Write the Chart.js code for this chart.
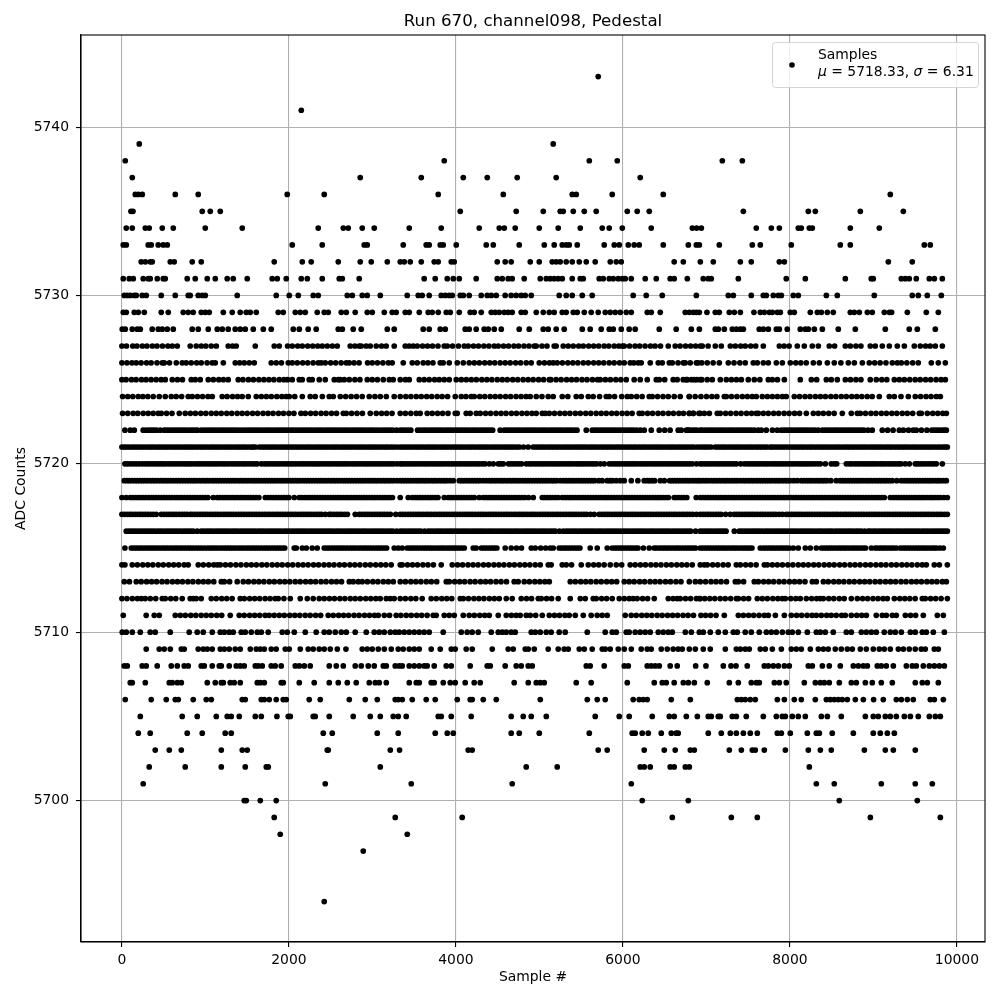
<!DOCTYPE html>
<html>
<head>
<meta charset="utf-8">
<title>Run 670, channel098, Pedestal</title>
<script src="https://cdn.jsdelivr.net/npm/chart.js@4"></script>
<style>
  html, body { margin: 0; padding: 0; background: #fff; }
  canvas { display: block; }
</style>
</head>
<body>
<canvas id="pedestal" width="1000" height="1000"></canvas>
<script>
// Sample numbers, one array per ADC level
const adc5743 = [5704];
const adc5741 = [2148];
const adc5739 = [208, 5165];
const adc5738 = [40, 3860, 5597, 5932, 7190, 7430];
const adc5737 = [124, 2854, 3585, 4088, 4375, 4734, 5201, 6207];
const adc5736 = [160, 196, 244, 639, 914, 1980, 2423, 3788, 4567, 5393, 5441, 5872, 6483, 9202];
const adc5735 = [108, 132, 962, 1058, 1178, 4052, 4722, 5046, 5249, 5285, 5405, 5537, 5680, 6052, 6171, 6315, 7442, 8220, 8304, 8843, 9358];
const adc5734 = [52, 124, 280, 327, 483, 615, 998, 1441, 2351, 2651, 2711, 2878, 3022, 3441, 3824, 4279, 4519, 4579, 4710, 4998, 5225, 5489, 5752, 5836, 5992, 6339, 6831, 6883, 6939, 7597, 7777, 7873, 8100, 8136, 8232, 8268, 8723, 9070];
const adc5733 = [16, 52, 315, 351, 435, 495, 543, 2040, 2399, 2902, 2938, 3369, 3644, 3680, 3812, 3848, 4004, 4363, 4447, 4758, 5058, 5177, 5273, 5321, 5357, 5453, 5776, 5896, 5956, 6064, 6135, 6195, 6483, 6783, 6879, 6915, 7154, 7549, 7645, 8016, 8603, 8723, 9609, 9681];
const adc5732 = [231, 280, 339, 363, 579, 627, 842, 950, 1824, 2160, 2267, 2591, 2854, 2986, 3178, 3333, 3381, 3453, 3585, 3740, 3788, 3944, 3980, 4495, 4590, 4662, 4890, 4998, 5153, 5201, 5249, 5321, 5393, 5477, 5561, 5668, 5848, 5920, 5980, 6614, 6723, 6927, 7082, 7406, 7537, 7873, 7933, 9178, 9465];
const adc5731 = [16, 88, 136, 255, 315, 339, 423, 495, 519, 782, 878, 1022, 1118, 1261, 1333, 1501, 1800, 1860, 1968, 2148, 2220, 2399, 2603, 2639, 2842, 3620, 3752, 3896, 3968, 4040, 4243, 4495, 4555, 4626, 4674, 4818, 5010, 5082, 5129, 5177, 5225, 5273, 5393, 5489, 5525, 5716, 5764, 5836, 5884, 5944, 5992, 6028, 6100, 6267, 6399, 6566, 6614, 6771, 6962, 7022, 7058, 7382, 7956, 8184, 8663, 8974, 8998, 9334, 9382, 9429, 9513, 9669, 9729, 9825];
const adc5730 = [28, 64, 100, 148, 172, 243, 291, 471, 639, 794, 818, 914, 962, 998, 1381, 1848, 2004, 2112, 2291, 2351, 2699, 2759, 2878, 2938, 3094, 3417, 3549, 3596, 3680, 3824, 3872, 3920, 3956, 4052, 4088, 4159, 4303, 4375, 4423, 4483, 4590, 4662, 4722, 4782, 4830, 4902, 5237, 5321, 5393, 5513, 5632, 6123, 6279, 6471, 6879, 7262, 7322, 7537, 7681, 7717, 7801, 7861, 7897, 8040, 8100, 8436, 8567, 9010, 9465, 9537, 9645, 9813];
const adc5729 = [16, 52, 148, 196, 268, 471, 555, 734, 794, 854, 950, 998, 1046, 1214, 1321, 1417, 1489, 1537, 1609, 1872, 1932, 2076, 2136, 2196, 2339, 2423, 2471, 2627, 2687, 2794, 2938, 2998, 3142, 3237, 3285, 3393, 3441, 3561, 3668, 3716, 3788, 3884, 3932, 4040, 4171, 4219, 4303, 4423, 4471, 4519, 4579, 4626, 4674, 4782, 4830, 4962, 5046, 5118, 5177, 5273, 5321, 5405, 5453, 5537, 5620, 5704, 5788, 5848, 5908, 5968, 6040, 6100, 6291, 6339, 6447, 6746, 6795, 6843, 6879, 6915, 7006, 7106, 7154, 7274, 7334, 7406, 7569, 7645, 7693, 7753, 7789, 7849, 7885, 8004, 8052, 8244, 8328, 8376, 8448, 8519, 8723, 8771, 8831, 8927, 8986, 9130, 9190, 9218, 9406, 9633, 9777];
const adc5728 = [4, 40, 124, 184, 220, 363, 435, 483, 543, 615, 842, 914, 1034, 1142, 1202, 1273, 1357, 1417, 1477, 1573, 1693, 1788, 2052, 2124, 2231, 2327, 2591, 2639, 2770, 2866, 3178, 3261, 3608, 3680, 3812, 3872, 4111, 4159, 4243, 4339, 4387, 4459, 4543, 4758, 4878, 5046, 5105, 5201, 5297, 5513, 5608, 5740, 5836, 5884, 5980, 6075, 6147, 6435, 6638, 6819, 6915, 7106, 7142, 7214, 7310, 7358, 7406, 7442, 7633, 7681, 7741, 7837, 7873, 7968, 8124, 8184, 8220, 8292, 8388, 8579, 8783, 9142, 9429, 9525, 9741];

const adc5727 = [0, 55, 130, 180, 245, 300, 365, 420, 485, 550, 603, 663, 818, 890, 950, 1005, 1070, 1130, 1273, 1325, 1369, 1597, 1824, 1884, 1984, 2040, 2105, 2160, 2225, 2285, 2345, 2399, 2459, 2520, 2579, 2734, 2790, 2842, 2866, 2925, 2974, 3046, 3110, 3165, 3261, 3393, 3440, 3489, 3537, 3600, 3660, 3720, 3785, 3860, 3896, 3960, 4030, 4100, 4147, 4210, 4270, 4335, 4395, 4459, 4507, 4570, 4630, 4695, 4750, 4815, 4875, 4938, 4962, 5030, 5090, 5177, 5201, 5285, 5345, 5405, 5470, 5525, 5590, 5650, 5710, 5775, 5830, 5895, 5950, 5992, 6016, 6080, 6145, 6200, 6265, 6330, 6385, 6450, 6543, 6626, 6685, 6750, 6810, 6870, 6927, 6950, 7020, 7106, 7178, 7286, 7346, 7410, 7465, 7530, 7590, 7681, 7873, 7930, 7990, 8088, 8172, 8268, 8340, 8471, 8535, 8663, 8723, 8790, 8850, 8962, 9022, 9106, 9190, 9286, 9370, 9489, 9561, 9625, 9680, 9741, 9825];
const adc5726 = [0, 60, 120, 172, 230, 295, 350, 420, 483, 507, 570, 651, 722, 770, 830, 895, 950, 1020, 1082, 1118, 1214, 1357, 1410, 1465, 1525, 1585, 1788, 1848, 1910, 1992, 2040, 2100, 2165, 2225, 2290, 2351, 2387, 2435, 2500, 2560, 2625, 2687, 2723, 2780, 2840, 2942, 2998, 3060, 3125, 3190, 3237, 3369, 3477, 3537, 3608, 3665, 3725, 3812, 3848, 3920, 4016, 4088, 4159, 4220, 4280, 4345, 4405, 4465, 4530, 4590, 4650, 4715, 4775, 4842, 4902, 4998, 5060, 5120, 5165, 5213, 5275, 5340, 5400, 5460, 5525, 5585, 5650, 5710, 5770, 5835, 5895, 5960, 6016, 6087, 6130, 6183, 6219, 6327, 6423, 6471, 6555, 6591, 6660, 6746, 6806, 6902, 6723, 6879, 6945, 7010, 7080, 7154, 7262, 7330, 7400, 7465, 7561, 7609, 7681, 7741, 7837, 7909, 8004, 8070, 8130, 8195, 8280, 8352, 8448, 8531, 8610, 8699, 8771, 8867, 8950, 9015, 9080, 9150, 9226, 9286, 9334, 9400, 9470, 9537, 9693, 9777, 9861];
const adc5725 = [0, 50, 115, 170, 235, 290, 350, 410, 470, 519, 603, 665, 725, 830, 878, 938, 1034, 1095, 1160, 1215, 1273, 1393, 1450, 1515, 1575, 1640, 1700, 1760, 1820, 1885, 1940, 1984, 2040, 2124, 2160, 2243, 2279, 2363, 2435, 2543, 2591, 2615, 2663, 2723, 2790, 2850, 2938, 2998, 3060, 3130, 3202, 3249, 3333, 3395, 3441, 3561, 3620, 3680, 3745, 3800, 3860, 3920, 4004, 4065, 4125, 4185, 4245, 4310, 4370, 4430, 4495, 4555, 4615, 4680, 4740, 4805, 4865, 4925, 4990, 5050, 5118, 5137, 5200, 5260, 5325, 5385, 5445, 5510, 5570, 5635, 5696, 5728, 5790, 5850, 5915, 5975, 6040, 6135, 6207, 6291, 6399, 6435, 6500, 6602, 6650, 6722, 6770, 6854, 6926, 6759, 6820, 6885, 6945, 7010, 7070, 7166, 7238, 7300, 7360, 7418, 7501, 7573, 7640, 7741, 7789, 7850, 7933, 8124, 8256, 8320, 8436, 8495, 8567, 8663, 8725, 8790, 8850, 8962, 9034, 9100, 9160, 9250, 9310, 9370, 9435, 9500, 9560, 9625, 9685, 9750, 9810, 9861];
const adc5724 = [8, 70, 130, 195, 250, 310, 375, 447, 519, 591, 650, 715, 794, 842, 905, 965, 1030, 1082, 1201, 1260, 1325, 1385, 1441, 1513, 1609, 1670, 1730, 1790, 1855, 1915, 1968, 2004, 2070, 2160, 2255, 2315, 2400, 2483, 2531, 2615, 2680, 2745, 2810, 2878, 2962, 3030, 3094, 3166, 3261, 3333, 3400, 3461, 3525, 3585, 3650, 3710, 3775, 3835, 3900, 3992, 4064, 4120, 4183, 4219, 4285, 4345, 4410, 4470, 4530, 4595, 4655, 4720, 4780, 4840, 4890, 4962, 5030, 5105, 5165, 5273, 5340, 5441, 5501, 5585, 5644, 5720, 5800, 5836, 5900, 5985, 6052, 6100, 6165, 6230, 6315, 6351, 6415, 6480, 6543, 6614, 6686, 6794, 6865, 6934, 6795, 7000, 7065, 7125, 7214, 7238, 7300, 7365, 7430, 7490, 7549, 7597, 7669, 7730, 7790, 7850, 7909, 7956, 8052, 8115, 8180, 8240, 8305, 8365, 8425, 8490, 8550, 8615, 8675, 8740, 8800, 8860, 8925, 8985, 9070, 9190, 9250, 9330, 9418, 9501, 9565, 9630, 9690, 9753, 9801];
const adc5723 = [8, 70, 135, 190, 255, 315, 375, 435, 471, 535, 600, 687, 758, 820, 880, 945, 1005, 1070, 1130, 1190, 1255, 1315, 1380, 1440, 1500, 1565, 1625, 1690, 1750, 1810, 1875, 1935, 2000, 2060, 2144, 2196, 2260, 2320, 2385, 2445, 2510, 2570, 2651, 2687, 2750, 2815, 2880, 2974, 3046, 3110, 3170, 3235, 3333, 3395, 3460, 3525, 3572, 3656, 3716, 3780, 3840, 3905, 3992, 4016, 4123, 4171, 4243, 4291, 4355, 4415, 4480, 4540, 4600, 4665, 4725, 4790, 4850, 4910, 4962, 5034, 5070, 5118, 5180, 5245, 5305, 5365, 5430, 5490, 5555, 5615, 5680, 5740, 5800, 5865, 5925, 5990, 6050, 6110, 6195, 6231, 6295, 6355, 6420, 6480, 6545, 6605, 6670, 6794, 6842, 6926, 6725, 6795, 6843, 6910, 6975, 7035, 7130, 7166, 7230, 7290, 7355, 7415, 7480, 7540, 7597, 7621, 7681, 7741, 7805, 7865, 7930, 7990, 8055, 8115, 8196, 8280, 8340, 8400, 8465, 8530, 8627, 8735, 8807, 8843, 8905, 8970, 9030, 9095, 9155, 9220, 9280, 9345, 9405, 9470, 9549, 9573, 9645, 9710, 9770, 9830, 9873];
const adc5722 = [36, 100, 148, 255, 291, 355, 415, 459, 507, 567, 630, 690, 750, 815, 875, 950, 986, 1050, 1110, 1175, 1235, 1300, 1360, 1429, 1465, 1530, 1590, 1650, 1715, 1775, 1840, 1900, 1960, 2025, 2085, 2150, 2210, 2270, 2335, 2395, 2460, 2520, 2580, 2645, 2705, 2770, 2830, 2890, 2955, 3015, 3082, 3118, 3180, 3245, 3333, 3395, 3460, 3541, 3572, 3635, 3700, 3760, 3820, 3885, 3945, 4010, 4070, 4130, 4195, 4255, 4320, 4380, 4440, 4530, 4579, 4640, 4705, 4765, 4830, 4890, 4950, 5015, 5075, 5140, 5200, 5260, 5325, 5385, 5450, 5561, 5632, 5695, 5760, 5820, 5880, 5945, 6005, 6070, 6130, 6207, 6255, 6339, 6435, 6500, 6565, 6662, 6698, 6760, 6825, 6885, 6926, 6950, 7015, 7075, 7140, 7200, 7265, 7325, 7390, 7450, 7510, 7575, 7657, 7717, 7790, 7849, 7897, 7960, 8020, 8085, 8145, 8205, 8270, 8340, 8388, 8450, 8515, 8575, 8640, 8700, 8760, 8825, 8885, 8986, 9106, 9170, 9235, 9310, 9358, 9420, 9477, 9513, 9575, 9640, 9700, 9760, 9825, 9873];
const adc5722b = [325, 385, 537, 600, 660, 720, 782, 845, 905, 1018, 1080, 1142, 1205, 1268, 1330, 1395, 1498, 1560, 1620, 1682, 1745, 1808, 1870, 1930, 1992, 2055, 2118, 2180, 2240, 2302, 2365, 2428, 2490, 2550, 2612, 2675, 2738, 2800, 2860, 2922, 2985, 3048, 3150, 3212, 3290, 3365, 3428, 3605, 3668, 3730, 3790, 3852, 3915, 3978, 4040, 4100, 4162, 4225, 4288, 4350, 4410, 4610, 4672, 4735, 4798, 4860, 4920, 4982, 5045, 5108, 5170, 5230, 5292, 5355, 5418, 5665, 5728, 5790, 5850, 5912, 5975, 6038, 6100, 6165, 6780, 6792, 6855, 6982, 7045, 7108, 7170, 7232, 7295, 7358, 7420, 7480, 7542, 7620, 7930, 7990, 8052, 8115, 8175, 8238, 8302, 8420, 8482, 8545, 8608, 8670, 8730, 8792, 8855, 8935, 9730, 9792, 9850];
const adc5721 = [0, 60, 125, 185, 245, 310, 370, 435, 495, 555, 620, 680, 745, 805, 865, 930, 990, 1055, 1115, 1175, 1240, 1300, 1365, 1425, 1485, 1550, 1597, 1645, 1710, 1770, 1830, 1895, 1955, 2020, 2080, 2140, 2205, 2265, 2330, 2390, 2450, 2515, 2575, 2640, 2700, 2760, 2825, 2885, 2950, 3010, 3070, 3135, 3195, 3260, 3333, 3395, 3455, 3520, 3580, 3645, 3705, 3765, 3830, 3890, 3955, 4015, 4075, 4140, 4200, 4265, 4325, 4385, 4450, 4510, 4575, 4635, 4695, 4760, 4866, 4926, 4990, 5050, 5115, 5175, 5235, 5300, 5360, 5425, 5485, 5545, 5610, 5670, 5735, 5795, 5855, 5920, 5980, 6045, 6105, 6165, 6230, 6290, 6355, 6415, 6475, 6540, 6600, 6665, 6725, 6785, 6850, 6926, 6990, 7054, 7106, 7170, 7230, 7295, 7355, 7415, 7480, 7540, 7605, 7665, 7725, 7765, 7789, 7850, 7915, 7975, 8040, 8100, 8160, 8225, 8285, 8350, 8410, 8470, 8535, 8595, 8660, 8720, 8780, 8845, 8905, 8970, 9030, 9090, 9155, 9215, 9280, 9340, 9400, 9465, 9525, 9590, 9650, 9710, 9775, 9835, 9885];
const adc5721b = [30, 92, 155, 215, 278, 340, 402, 465, 525, 588, 650, 712, 775, 835, 898, 960, 1022, 1085, 1145, 1208, 1270, 1332, 1395, 1455, 1518, 1572, 1678, 1740, 1800, 1862, 1925, 1988, 2050, 2110, 2172, 2235, 2298, 2360, 2420, 2482, 2545, 2608, 2670, 2730, 2792, 2855, 2918, 2980, 3040, 3102, 3165, 3228, 3296, 3365, 3425, 3488, 3550, 3612, 3675, 3735, 3798, 3860, 3922, 3985, 4045, 4108, 4170, 4232, 4295, 4355, 4418, 4480, 4542, 4605, 4665, 4728, 4810, 4958, 5020, 5082, 5145, 5205, 5268, 5330, 5392, 5455, 5515, 5578, 5640, 5702, 5765, 5825, 5888, 5950, 6012, 6075, 6135, 6198, 6260, 6322, 6385, 6445, 6508, 6570, 6632, 6695, 6755, 6818, 6890, 6958, 7020, 7138, 7200, 7262, 7325, 7385, 7448, 7510, 7572, 7635, 7695, 7820, 7882, 7945, 8008, 8070, 8130, 8192, 8255, 8318, 8380, 8440, 8502, 8565, 8628, 8690, 8750, 8812, 8875, 8938, 9000, 9060, 9122, 9185, 9248, 9310, 9370, 9432, 9495, 9558, 9620, 9680, 9742, 9805, 9860];
const adc5720 = [36, 100, 170, 243, 279, 340, 405, 465, 525, 590, 650, 715, 775, 835, 900, 960, 1025, 1085, 1145, 1210, 1273, 1309, 1370, 1435, 1495, 1560, 1620, 1669, 1705, 1765, 1830, 1890, 1955, 2015, 2075, 2140, 2200, 2265, 2325, 2385, 2450, 2510, 2575, 2635, 2695, 2760, 2820, 2885, 2945, 3005, 3070, 3130, 3195, 3255, 3333, 3357, 3420, 3480, 3540, 3605, 3665, 3730, 3790, 3850, 3915, 3975, 4040, 4100, 4160, 4225, 4285, 4350, 4447, 4507, 4567, 4630, 4690, 4755, 4842, 4878, 4940, 5005, 5065, 5130, 5190, 5250, 5315, 5375, 5440, 5500, 5560, 5625, 5685, 5776, 5836, 5900, 5960, 6025, 6085, 6145, 6210, 6270, 6335, 6395, 6455, 6520, 6580, 6645, 6705, 6765, 6830, 6926, 6990, 7050, 7115, 7175, 7235, 7300, 7360, 7454, 7489, 7550, 7610, 7675, 7735, 7800, 7860, 7920, 7985, 8045, 8110, 8170, 8230, 8295, 8364, 8424, 8495, 8560, 8675, 8711, 8775, 8835, 8900, 8960, 9020, 9085, 9145, 9210, 9270, 9330, 9430, 9501, 9560, 9625, 9690, 9753, 9825];
const adc5720b = [68, 135, 205, 310, 372, 435, 495, 558, 620, 682, 745, 805, 868, 930, 992, 1055, 1115, 1178, 1240, 1340, 1402, 1465, 1528, 1590, 1735, 1798, 1860, 1922, 1985, 2045, 2108, 2170, 2232, 2295, 2355, 2418, 2480, 2542, 2605, 2665, 2728, 2790, 2852, 2915, 2975, 3038, 3100, 3162, 3225, 3295, 3388, 3450, 3510, 3572, 3635, 3698, 3760, 3820, 3882, 3945, 4008, 4070, 4130, 4192, 4255, 4318, 4400, 4537, 4660, 4722, 4785, 4908, 4972, 5035, 5098, 5160, 5220, 5282, 5345, 5408, 5470, 5530, 5592, 5655, 5730, 5868, 5930, 5992, 6055, 6115, 6178, 6240, 6302, 6365, 6425, 6488, 6550, 6612, 6675, 6735, 6798, 6880, 6958, 7020, 7082, 7145, 7205, 7268, 7330, 7410, 7520, 7580, 7642, 7705, 7768, 7830, 7890, 7952, 8015, 8078, 8140, 8200, 8262, 8330, 8530, 8740, 8805, 8868, 8930, 8990, 9052, 9115, 9178, 9240, 9300, 9380, 9530, 9592, 9658, 9720];
const adc5719 = [28, 90, 155, 215, 275, 340, 400, 465, 525, 585, 650, 710, 775, 835, 895, 960, 1020, 1085, 1145, 1205, 1270, 1330, 1395, 1455, 1515, 1580, 1640, 1705, 1765, 1825, 1890, 1950, 2015, 2075, 2135, 2200, 2260, 2325, 2385, 2445, 2510, 2570, 2635, 2695, 2755, 2820, 2880, 2945, 3005, 3065, 3130, 3190, 3255, 3333, 3395, 3455, 3520, 3580, 3640, 3705, 3765, 3830, 3890, 3968, 4040, 4100, 4165, 4225, 4285, 4363, 4399, 4460, 4525, 4585, 4650, 4710, 4770, 4835, 4895, 4960, 5020, 5080, 5145, 5205, 5249, 5285, 5350, 5410, 5475, 5535, 5595, 5660, 5752, 5812, 5875, 5968, 6016, 6100, 6179, 6255, 6320, 6380, 6447, 6495, 6560, 6620, 6680, 6745, 6805, 6870, 6926, 6990, 7022, 7058, 7120, 7185, 7245, 7310, 7370, 7406, 7442, 7505, 7565, 7630, 7690, 7750, 7815, 7875, 7940, 8000, 8088, 8136, 8200, 8260, 8325, 8385, 8445, 8555, 8603, 8665, 8730, 8790, 8850, 8915, 8975, 9040, 9100, 9160, 9225, 9334, 9370, 9435, 9495, 9555, 9620, 9680, 9745, 9805, 9873];
const adc5719b = [60, 122, 185, 245, 308, 370, 432, 495, 555, 618, 680, 742, 805, 865, 928, 990, 1052, 1115, 1175, 1238, 1300, 1362, 1425, 1485, 1548, 1610, 1672, 1735, 1795, 1858, 1920, 1982, 2045, 2105, 2168, 2230, 2292, 2355, 2415, 2478, 2540, 2602, 2665, 2725, 2788, 2850, 2912, 2975, 3035, 3098, 3160, 3222, 3295, 3365, 3425, 3488, 3550, 3610, 3672, 3735, 3798, 3860, 3930, 4070, 4132, 4195, 4255, 4325, 4430, 4492, 4555, 4618, 4680, 4740, 4802, 4865, 4928, 4990, 5050, 5112, 5175, 5318, 5380, 5442, 5505, 5565, 5628, 5710, 5845, 5920, 6290, 6350, 6590, 6650, 6712, 6775, 6838, 6900, 6958, 7090, 7152, 7215, 7278, 7340, 7472, 7535, 7598, 7660, 7720, 7782, 7845, 7908, 7970, 8045, 8168, 8230, 8292, 8355, 8415, 8490, 8635, 8698, 8760, 8820, 8882, 8945, 9008, 9070, 9130, 9192, 9280, 9402, 9465, 9525, 9588, 9650, 9712, 9775, 9840];
const adc5718 = [0, 52, 100, 165, 225, 285, 350, 410, 475, 535, 595, 660, 720, 785, 845, 905, 970, 1030, 1094, 1142, 1205, 1265, 1330, 1390, 1450, 1515, 1575, 1640, 1717, 1753, 1815, 1880, 1940, 2000, 2064, 2124, 2190, 2250, 2310, 2375, 2435, 2500, 2560, 2620, 2685, 2745, 2810, 2870, 2930, 2995, 3055, 3120, 3180, 3240, 3333, 3429, 3477, 3540, 3600, 3665, 3725, 3785, 3860, 3908, 3970, 4035, 4095, 4160, 4220, 4279, 4327, 4390, 4450, 4515, 4575, 4635, 4700, 4760, 4825, 4926, 5034, 5095, 5160, 5225, 5273, 5335, 5395, 5460, 5520, 5585, 5645, 5705, 5770, 5830, 5895, 5955, 6015, 6080, 6140, 6205, 6265, 6325, 6390, 6450, 6515, 6614, 6638, 6700, 6765, 6878, 6927, 6990, 7050, 7115, 7175, 7235, 7300, 7360, 7425, 7485, 7545, 7610, 7670, 7735, 7795, 7855, 7920, 7980, 8045, 8105, 8165, 8230, 8290, 8355, 8415, 8475, 8540, 8600, 8665, 8725, 8785, 8850, 8910, 8975, 9035, 9095, 9202, 9238, 9300, 9365, 9425, 9490, 9550, 9610, 9675, 9735, 9800, 9885];
const adc5718b = [132, 195, 255, 318, 380, 442, 505, 565, 628, 690, 752, 815, 875, 938, 1000, 1172, 1235, 1298, 1360, 1420, 1482, 1545, 1608, 1785, 1848, 1910, 1970, 2155, 2220, 2280, 2342, 2405, 2468, 2530, 2590, 2652, 2715, 2778, 2840, 2900, 2962, 3025, 3088, 3150, 3210, 3510, 3570, 3632, 3695, 3755, 3940, 4002, 4065, 4128, 4190, 4358, 4420, 4482, 4545, 4605, 4668, 4730, 4792, 4870, 5065, 5128, 5192, 5305, 5365, 5428, 5490, 5552, 5615, 5675, 5738, 5800, 5862, 5925, 5985, 6048, 6110, 6172, 6235, 6295, 6358, 6420, 6482, 6545, 6670, 6730, 6958, 7020, 7082, 7145, 7205, 7268, 7330, 7392, 7455, 7515, 7578, 7640, 7702, 7765, 7825, 7888, 7950, 8012, 8075, 8135, 8198, 8260, 8322, 8385, 8445, 8508, 8570, 8632, 8695, 8755, 8818, 8880, 8942, 9005, 9065, 9130, 9270, 9332, 9395, 9458, 9520, 9580, 9642, 9705, 9768, 9842];
const adc5717 = [0, 65, 125, 190, 250, 310, 375, 411, 471, 535, 595, 655, 720, 780, 818, 842, 905, 965, 1025, 1090, 1150, 1215, 1275, 1335, 1400, 1460, 1525, 1585, 1645, 1710, 1770, 1835, 1895, 1955, 2020, 2080, 2145, 2205, 2265, 2330, 2390, 2483, 2507, 2570, 2630, 2700, 2794, 2842, 2905, 2965, 3030, 3090, 3150, 3215, 3333, 3395, 3460, 3520, 3580, 3645, 3705, 3770, 3830, 3890, 3955, 4015, 4080, 4140, 4200, 4265, 4325, 4390, 4450, 4510, 4575, 4635, 4700, 4760, 4820, 4885, 4945, 5010, 5070, 5130, 5195, 5255, 5320, 5380, 5440, 5505, 5565, 5656, 5716, 5780, 5840, 5905, 5965, 6025, 6090, 6150, 6215, 6275, 6335, 6400, 6460, 6525, 6585, 6645, 6710, 6770, 6835, 6926, 6990, 7050, 7115, 7175, 7286, 7334, 7395, 7460, 7520, 7580, 7645, 7705, 7770, 7830, 7909, 7956, 8020, 8080, 8140, 8205, 8265, 8330, 8390, 8450, 8515, 8575, 8640, 8700, 8760, 8825, 8885, 8950, 9010, 9070, 9135, 9195, 9260, 9320, 9380, 9445, 9505, 9570, 9630, 9690, 9755, 9815, 9885];
const adc5717b = [32, 95, 158, 220, 280, 342, 503, 565, 625, 688, 750, 875, 935, 995, 1058, 1120, 1182, 1245, 1305, 1368, 1430, 1492, 1555, 1615, 1678, 1740, 1802, 1865, 1925, 1988, 2050, 2112, 2175, 2235, 2298, 2360, 2435, 2538, 2600, 2665, 2872, 2935, 2998, 3060, 3120, 3182, 3280, 3365, 3428, 3490, 3550, 3612, 3675, 3738, 3800, 3860, 3922, 3985, 4048, 4110, 4170, 4232, 4295, 4358, 4420, 4480, 4542, 4605, 4668, 4730, 4790, 4852, 4915, 4978, 5040, 5100, 5162, 5225, 5288, 5350, 5410, 5472, 5535, 5610, 5748, 5810, 5872, 5935, 5995, 6058, 6120, 6182, 6245, 6305, 6368, 6430, 6492, 6555, 6615, 6678, 6740, 6802, 6880, 6958, 7020, 7082, 7145, 7230, 7365, 7428, 7490, 7550, 7612, 7675, 7738, 7800, 7870, 7988, 8050, 8110, 8172, 8235, 8298, 8360, 8420, 8482, 8545, 8608, 8670, 8730, 8792, 8855, 8918, 8980, 9040, 9102, 9165, 9228, 9290, 9350, 9412, 9475, 9538, 9600, 9660, 9722, 9785, 9850];
const adc5716 = [52, 115, 175, 240, 300, 360, 425, 485, 550, 610, 670, 735, 795, 854, 902, 950, 1015, 1075, 1140, 1200, 1260, 1325, 1385, 1450, 1510, 1570, 1635, 1695, 1760, 1820, 1880, 1945, 2005, 2070, 2130, 2190, 2255, 2315, 2380, 2440, 2500, 2565, 2625, 2690, 2750, 2810, 2875, 2935, 3000, 3060, 3120, 3185, 3245, 3333, 3395, 3460, 3520, 3580, 3668, 3700, 3765, 3825, 3890, 3950, 4010, 4075, 4135, 4200, 4260, 4320, 4385, 4445, 4510, 4570, 4630, 4695, 4755, 4820, 4880, 4940, 5005, 5065, 5130, 5190, 5285, 5321, 5385, 5445, 5510, 5570, 5630, 5695, 5755, 5820, 5880, 5940, 6005, 6065, 6130, 6190, 6250, 6315, 6375, 6440, 6500, 6560, 6625, 6685, 6750, 6810, 6926, 6990, 7050, 7115, 7175, 7235, 7334, 7394, 7455, 7520, 7580, 7640, 7705, 7765, 7830, 7890, 7950, 8015, 8075, 8140, 8200, 8260, 8325, 8385, 8450, 8507, 8543, 8605, 8670, 8730, 8795, 8855, 8938, 8962, 9025, 9090, 9150, 9210, 9275, 9335, 9400, 9460, 9520, 9585, 9645, 9710, 9770, 9830, 9885];
const adc5716b = [85, 145, 208, 270, 330, 392, 455, 518, 580, 640, 702, 765, 825, 982, 1045, 1108, 1170, 1230, 1292, 1355, 1418, 1480, 1540, 1602, 1665, 1728, 1790, 1850, 1912, 1975, 2038, 2100, 2160, 2222, 2285, 2348, 2410, 2470, 2532, 2595, 2658, 2720, 2780, 2842, 2905, 2968, 3030, 3090, 3152, 3215, 3290, 3365, 3428, 3490, 3550, 3625, 3732, 3795, 3858, 3920, 3980, 4042, 4105, 4168, 4230, 4290, 4352, 4415, 4478, 4540, 4600, 4662, 4725, 4788, 4850, 4910, 4972, 5035, 5098, 5160, 5240, 5352, 5415, 5478, 5540, 5600, 5662, 5725, 5788, 5850, 5910, 5972, 6035, 6098, 6160, 6220, 6282, 6345, 6408, 6470, 6530, 6592, 6655, 6718, 6780, 6870, 6958, 7020, 7082, 7145, 7205, 7424, 7488, 7550, 7610, 7672, 7735, 7798, 7860, 7920, 7982, 8045, 8108, 8170, 8230, 8292, 8355, 8418, 8478, 8575, 8638, 8700, 8762, 8825, 8895, 8995, 9058, 9120, 9180, 9242, 9305, 9368, 9430, 9490, 9552, 9615, 9678, 9740, 9800, 9858];
const adc5715 = [36, 112, 175, 235, 300, 360, 420, 485, 545, 610, 670, 730, 795, 855, 920, 986, 1022, 1085, 1145, 1210, 1270, 1330, 1395, 1455, 1520, 1580, 1640, 1705, 1765, 1830, 1890, 1950, 2064, 2088, 2160, 2208, 2279, 2339, 2423, 2485, 2550, 2610, 2670, 2735, 2795, 2860, 2920, 2980, 3045, 3105, 3170, 3261, 3309, 3357, 3417, 3480, 3540, 3605, 3665, 3725, 3790, 3850, 3915, 3975, 4035, 4100, 4207, 4243, 4305, 4365, 4430, 4490, 4590, 4662, 4725, 4785, 4902, 4950, 5015, 5075, 5129, 5165, 5237, 5300, 5360, 5425, 5485, 5608, 5692, 5812, 5872, 5935, 5995, 6060, 6120, 6180, 6245, 6315, 6375, 6440, 6500, 6560, 6625, 6685, 6750, 6810, 6870, 6926, 6990, 7050, 7115, 7175, 7235, 7300, 7360, 7425, 7485, 7545, 7645, 7681, 7745, 7805, 7870, 7930, 7990, 8040, 8100, 8184, 8244, 8316, 8376, 8440, 8500, 8565, 8625, 8685, 8750, 8810, 8875, 8975, 9022, 9085, 9145, 9210, 9274, 9322, 9385, 9445, 9510, 9570, 9630, 9695, 9755, 9837];
const adc5715b = [145, 205, 268, 330, 390, 452, 515, 578, 640, 700, 762, 825, 888, 952, 1055, 1115, 1178, 1240, 1300, 1362, 1425, 1488, 1550, 1610, 1672, 1735, 1798, 1860, 1920, 2455, 2518, 2580, 2640, 2702, 2765, 2828, 2890, 2950, 3012, 3075, 3138, 3450, 3510, 3572, 3635, 3695, 3758, 3820, 3882, 3945, 4005, 4068, 4335, 4398, 4460, 5268, 5330, 5392, 5455, 5905, 5965, 6028, 6090, 6150, 6405, 6470, 6530, 6592, 6655, 6718, 6780, 6840, 6958, 7020, 7082, 7145, 7205, 7268, 7330, 7392, 7455, 7515, 7712, 7775, 7838, 7900, 7960, 8408, 8470, 8532, 8595, 8655, 8718, 8780, 8842, 8905, 9052, 9115, 9178, 9240, 9355, 9415, 9478, 9540, 9600, 9662, 9725, 9795];
const adc5714 = [0, 36, 124, 185, 250, 310, 370, 435, 495, 560, 620, 680, 745, 794, 914, 975, 1040, 1100, 1142, 1178, 1240, 1300, 1365, 1425, 1490, 1550, 1610, 1675, 1735, 1800, 1860, 1920, 1985, 2045, 2110, 2170, 2230, 2295, 2355, 2420, 2480, 2540, 2605, 2665, 2730, 2790, 2850, 2915, 2975, 3040, 3100, 3160, 3225, 3333, 3357, 3420, 3480, 3540, 3605, 3665, 3730, 3824, 3956, 4020, 4080, 4145, 4205, 4265, 4330, 4390, 4455, 4515, 4575, 4640, 4700, 4765, 4825, 4885, 4950, 5010, 5106, 5141, 5273, 5321, 5385, 5501, 5585, 5650, 5710, 5775, 5848, 5920, 5985, 6087, 6147, 6210, 6270, 6335, 6395, 6455, 6520, 6580, 6645, 6705, 6765, 6830, 6926, 6974, 7010, 7075, 7135, 7200, 7260, 7358, 7406, 7470, 7530, 7595, 7693, 7729, 7789, 7849, 7910, 7975, 8035, 8100, 8160, 8220, 8285, 8345, 8410, 8470, 8530, 8595, 8655, 8720, 8780, 8840, 8905, 8965, 9030, 9090, 9150, 9215, 9275, 9340, 9400, 9460, 9525, 9585, 9633, 9729, 9790, 9885];
const adc5713 = [28, 90, 172, 231, 295, 355, 415, 480, 540, 605, 665, 725, 790, 850, 915, 975, 1035, 1100, 1190, 1226, 1290, 1381, 1453, 1515, 1580, 1640, 1700, 1765, 1825, 1890, 1950, 2010, 2075, 2135, 2200, 2260, 2320, 2385, 2445, 2510, 2570, 2630, 2723, 2770, 2830, 2878, 2940, 3005, 3065, 3130, 3190, 3250, 3333, 3395, 3460, 3520, 3580, 3645, 3705, 3770, 3884, 3920, 3985, 4045, 4105, 4170, 4230, 4295, 4355, 4415, 4480, 4540, 4605, 4698, 4746, 4818, 4880, 4945, 5005, 5065, 5118, 5369, 5430, 5495, 5555, 5615, 5680, 5740, 5805, 5865, 5925, 6016, 6075, 6135, 6200, 6260, 6325, 6385, 6445, 6510, 6570, 6635, 6695, 6795, 6867, 6926, 6990, 7055, 7115, 7175, 7240, 7346, 7382, 7445, 7573, 7621, 7685, 7745, 7805, 7870, 7930, 7995, 8055, 8115, 8180, 8268, 8316, 8400, 8459, 8525, 8585, 8645, 8710, 8770, 8835, 8895, 8955, 9020, 9080, 9145, 9205, 9265, 9330, 9390, 9455, 9515, 9575, 9640, 9700, 9760, 9825, 9873];
const adc5712 = [0, 60, 125, 185, 232, 279, 340, 405, 483, 519, 585, 645, 722, 818, 854, 890, 950, 1070, 1130, 1195, 1255, 1320, 1417, 1465, 1530, 1590, 1650, 1715, 1775, 1836, 1872, 1940, 2016, 2136, 2220, 2291, 2363, 2423, 2485, 2545, 2610, 2670, 2735, 2794, 2855, 2920, 2980, 3040, 3094, 3166, 3214, 3261, 3333, 3395, 3460, 3520, 3596, 3704, 3765, 3830, 3890, 3950, 4052, 4088, 4150, 4215, 4275, 4335, 4400, 4460, 4519, 4603, 4674, 4782, 4845, 4905, 4986, 5022, 5085, 5145, 5225, 5369, 5489, 5549, 5644, 5680, 5745, 5805, 5872, 5956, 6016, 6075, 6123, 6171, 6235, 6295, 6375, 6543, 6600, 6650, 6686, 6750, 6810, 6926, 6879, 6915, 6980, 7040, 7100, 7165, 7225, 7290, 7358, 7382, 7445, 7505, 7609, 7669, 7730, 7795, 7855, 7909, 7945, 8010, 8070, 8124, 8196, 8260, 8320, 8364, 8400, 8465, 8525, 8590, 8650, 8735, 8807, 8870, 8930, 8995, 9055, 9115, 9166, 9250, 9315, 9375, 9435, 9500, 9585, 9621, 9685, 9745, 9810, 9885];
const adc5711 = [16, 291, 387, 447, 639, 700, 760, 825, 885, 950, 1010, 1070, 1135, 1195, 1297, 1405, 1465, 1530, 1590, 1650, 1715, 1764, 1824, 1885, 1945, 2010, 2070, 2130, 2195, 2255, 2320, 2380, 2471, 2531, 2595, 2655, 2715, 2780, 2840, 2905, 2965, 3025, 3070, 3142, 3205, 3285, 3341, 3405, 3465, 3530, 3590, 3655, 3728, 3764, 3860, 3920, 3980, 4088, 4159, 4220, 4285, 4345, 4399, 4507, 4603, 4665, 4722, 4770, 4842, 4890, 4955, 5034, 5118, 5180, 5240, 5305, 5357, 5429, 5525, 5620, 5692, 5752, 5812, 6028, 6100, 6160, 6225, 6285, 6345, 6410, 6470, 6535, 6595, 6655, 6720, 6780, 6845, 6934, 6990, 7050, 7115, 7214, 7382, 7442, 7505, 7565, 7630, 7693, 7741, 7825, 7933, 8016, 8080, 8140, 8205, 8265, 8316, 8376, 8440, 8495, 8555, 8620, 8663, 8735, 8800, 8860, 8915, 9034, 9106, 9154, 9226, 9274, 9382, 9445, 9505, 9597, 9765, 9837];

const adc5710 = [4, 52, 124, 220, 339, 399, 579, 806, 902, 974, 1082, 1178, 1226, 1285, 1333, 1429, 1477, 1549, 1621, 1669, 1752, 1920, 1980, 2064, 2196, 2327, 2423, 2483, 2555, 2627, 2687, 2794, 2926, 3022, 3082, 3142, 3214, 3273, 3321, 3381, 3441, 3501, 3561, 3620, 3680, 3848, 4064, 4135, 4195, 4267, 4423, 4507, 4555, 4603, 4662, 4710, 4902, 4950, 5010, 5082, 5141, 5237, 5309, 5573, 5788, 5872, 5920, 6040, 6075, 6147, 6207, 6267, 6327, 6423, 6483, 6543, 6591, 6747, 6819, 6915, 6962, 7046, 7142, 7226, 7322, 7370, 7465, 7537, 7633, 7717, 7777, 7837, 7909, 7980, 8028, 8100, 8208, 8316, 8364, 8424, 8519, 8675, 8735, 8855, 8915, 8975, 9034, 9130, 9202, 9262, 9334, 9442, 9501, 9585, 9633, 9717, 9849];
const adc5709 = [291, 447, 507, 579, 711, 746, 914, 974, 1022, 1082, 1178, 1226, 1285, 1357, 1417, 1537, 1609, 1657, 1705, 1788, 1848, 1956, 2004, 2136, 2231, 2291, 2363, 2423, 2495, 2579, 2683, 2878, 2938, 2998, 3070, 3142, 3225, 3309, 3369, 3441, 3501, 3561, 3704, 3812, 3944, 3992, 4123, 4195, 4435, 4626, 4686, 4830, 4866, 4938, 5105, 5225, 5297, 5345, 5477, 5537, 5632, 5752, 5788, 5848, 5944, 6016, 6100, 6219, 6291, 6339, 6459, 6531, 6602, 6662, 6711, 6795, 6867, 6962, 7046, 7226, 7358, 7406, 7465, 7513, 7645, 7705, 7789, 7897, 8016, 8076, 8136, 8244, 8340, 8400, 8459, 8543, 8615, 8687, 8747, 8843, 8915, 8998, 9070, 9130, 9202, 9298, 9358, 9429, 9501, 9573, 9621, 9729, 9777];
const adc5708 = [28, 64, 243, 291, 423, 591, 663, 746, 794, 950, 986, 1082, 1166, 1190, 1285, 1369, 1417, 1465, 1597, 1633, 1681, 1788, 1836, 1908, 2076, 2124, 2184, 2255, 2483, 2567, 2651, 2794, 2866, 2950, 3022, 3130, 3166, 3273, 3321, 3357, 3441, 3501, 3561, 3620, 3656, 3740, 3884, 3944, 4171, 4375, 4411, 4590, 4722, 4782, 4866, 4914, 5561, 5608, 5776, 6016, 6064, 6291, 6339, 6387, 6435, 6566, 6650, 6871, 6994, 7202, 7294, 7354, 7489, 7693, 7741, 7801, 7861, 7933, 7992, 8220, 8268, 8388, 8471, 8603, 8759, 8819, 8879, 8927, 9046, 9094, 9154, 9238, 9394, 9465, 9513, 9597, 9669, 9729, 9789, 9849];
const adc5707 = [100, 124, 280, 567, 603, 663, 711, 1022, 1118, 1190, 1214, 1297, 1345, 1417, 1621, 1657, 1705, 1908, 1932, 2124, 2303, 2483, 2591, 2699, 2806, 2962, 3034, 3082, 3166, 3441, 3525, 3561, 3704, 3740, 3848, 3932, 3992, 4111, 4219, 4291, 4698, 4866, 4962, 5010, 5058, 5441, 5620, 6052, 6375, 6471, 6519, 6614, 6723, 6783, 6855, 7010, 7274, 7382, 7537, 7597, 7633, 7813, 7873, 7956, 8172, 8304, 8364, 8412, 8471, 8591, 8735, 8795, 8903, 8986, 9094, 9226, 9501, 9585, 9645, 9777];
const adc5706 = [40, 351, 531, 639, 675, 854, 1010, 1070, 1441, 1477, 1669, 1705, 1764, 1848, 1932, 1968, 2243, 2375, 2723, 2914, 3058, 3273, 3309, 3357, 3477, 3644, 3752, 4016, 4171, 4195, 4327, 4483, 5010, 5573, 5692, 5788, 6123, 6195, 6243, 6291, 6579, 6807, 7370, 7418, 7465, 7525, 7585, 7849, 7933, 8052, 8136, 8304, 8436, 8483, 8531, 8579, 8627, 8687, 8783, 8879, 9002, 9118, 9274, 9334, 9406, 9477, 9681, 9729, 9837];
const adc5705 = [220, 722, 902, 1130, 1261, 1309, 1405, 1597, 1669, 1856, 1992, 2016, 2291, 2315, 2483, 2770, 2974, 3094, 3249, 3309, 3405, 3788, 3824, 3944, 4183, 4662, 4806, 4902, 5082, 5668, 5956, 6075, 6351, 6555, 6614, 6759, 6891, 7022, 7058, 7142, 7166, 7310, 7358, 7477, 7681, 7837, 7909, 7945, 8028, 8100, 8184, 8376, 8448, 8615, 8903, 8998, 9058, 9142, 9202, 9274, 9370, 9442, 9537, 9669, 9741, 9801];
const adc5704 = [196, 339, 782, 962, 1237, 1309, 2411, 2519, 3058, 3309, 3752, 3896, 3968, 4662, 4758, 4998, 5597, 6111, 6147, 6231, 6303, 6459, 6579, 6638, 6662, 7022, 7178, 7286, 7358, 7442, 7525, 7609, 7849, 7897, 8004, 8208, 8316, 8352, 8507, 8759, 8998, 9082, 9166, 9250];
const adc5703 = [399, 567, 711, 1190, 1441, 1501, 2459, 2471, 3214, 3325, 4147, 4195, 5704, 5812, 6255, 6495, 6626, 6807, 6855, 7274, 7418, 7549, 7585, 7693, 7945, 8220, 8364, 8495, 8891, 9142, 9238, 9501];
const adc5702 = [327, 758, 1190, 1477, 1729, 1753, 3094, 4842, 5213, 6207, 6255, 6327, 6566, 6614, 6747, 6795, 8232];
const adc5701 = [255, 2435, 3465, 4674, 6100, 8316, 8531, 9094, 9501, 9705];
const adc5700 = [1465, 1489, 1657, 1848, 6231, 6783, 8591, 9525];
const adc5699 = [1824, 3273, 4075, 6591, 7298, 7609, 8963, 9801];
const adc5698 = [1896, 3417];
const adc5697 = [2890];
const adc5694 = [2423];

const levels = [5743, 5741, 5739, 5738, 5737, 5736, 5735, 5734, 5733, 5732, 5731, 5730, 5729, 5728, 5727, 5726, 5725, 5724, 5723, 5722, 5722, 5721, 5721, 5720, 5720, 5719, 5719, 5718, 5718, 5717, 5717, 5716, 5716, 5715, 5715, 5714, 5713, 5712, 5711, 5710, 5709, 5708, 5707, 5706, 5705, 5704, 5703, 5702, 5701, 5700, 5699, 5698, 5697, 5694];
const samplesByLevel = [adc5743, adc5741, adc5739, adc5738, adc5737, adc5736, adc5735, adc5734, adc5733, adc5732, adc5731, adc5730, adc5729, adc5728, adc5727, adc5726, adc5725, adc5724, adc5723, adc5722, adc5722b, adc5721, adc5721b, adc5720, adc5720b, adc5719, adc5719b, adc5718, adc5718b, adc5717, adc5717b, adc5716, adc5716b, adc5715, adc5715b, adc5714, adc5713, adc5712, adc5711, adc5710, adc5709, adc5708, adc5707, adc5706, adc5705, adc5704, adc5703, adc5702, adc5701, adc5700, adc5699, adc5698, adc5697, adc5694];
const xTickValues = [0, 2000, 4000, 6000, 8000, 10000];
const yTickValues = [5700, 5710, 5720, 5730, 5740];

const titleText = 'Run 670, channel098, Pedestal';
const font = '"DejaVu Sans", sans-serif';

const points = levels.flatMap((level, i) => samplesByLevel[i].map(x => ({ x: x, y: level })));

// Top and right spines, and the legend box in the corner
const framePlugin = {
    id: 'frame',
    afterDatasetsDraw(chart) {
        const { ctx, chartArea: a } = chart;
        ctx.save();
        ctx.strokeStyle = '#000';
        ctx.lineWidth = 1.1;
        ctx.strokeRect(a.left, a.top, a.right - a.left, a.bottom - a.top);

        ctx.beginPath();
        ctx.roundRect(772.5, 42.5, 206, 45, 3);
        ctx.fillStyle = 'rgba(255,255,255,0.8)';
        ctx.fill();
        ctx.strokeStyle = '#d5d5d5';
        ctx.lineWidth = 1;
        ctx.stroke();

        ctx.fillStyle = '#000';
        ctx.beginPath();
        ctx.arc(792, 65, 2.8, 0, Math.PI * 2);
        ctx.fill();

        ctx.textBaseline = 'alphabetic';
        ctx.font = '13.9px ' + font;
        ctx.fillText('Samples', 818, 59);
        let x = 818;
        const parts = [['μ', true], [' = 5718.33, ', false], ['σ', true], [' = 6.31', false]];
        parts.forEach(([text, italic]) => {
            ctx.font = (italic ? 'italic ' : '') + '13.9px ' + font;
            ctx.fillText(text, x, 76);
            x += ctx.measureText(text).width;
        });
        ctx.restore();
    }
};

new Chart(document.getElementById('pedestal'), {
    type: 'scatter',
    data: {
        datasets: [{
            label: 'Samples',
            data: points,
            backgroundColor: '#000',
            borderWidth: 0,
            pointRadius: 2.85
        }]
    },
    options: {
        responsive: false,
        animation: false,
        layout: { padding: { left: 0, right: 15, top: 0, bottom: 0 } },
        plugins: {
            legend: { display: false },
            tooltip: { enabled: false },
            title: {
                display: true,
                text: titleText,
                fullSize: false,
                color: '#000',
                font: { family: font, size: 16.67, weight: 'normal' },
                padding: { top: 12, bottom: 3 }
            }
        },
        scales: {
            x: {
                type: 'linear',
                min: -490,
                max: 10336,
                afterBuildTicks: s => { s.ticks = xTickValues.map(v => ({ value: v })); },
                afterFit: s => { s.height = 58; },
                grid: { color: '#b0b0b0', lineWidth: 1.1, tickColor: '#000', tickLength: 5 },
                border: { color: '#000', width: 1.1 },
                ticks: { color: '#000', font: { family: font, size: 13.9 }, maxRotation: 0, padding: 5, callback: v => String(v) },
                title: { display: true, text: 'Sample #', color: '#000', font: { family: font, size: 13.9 }, padding: { top: 0, bottom: 14.7 } }
            },
            y: {
                type: 'linear',
                min: 5691.6,
                max: 5745.47,
                afterBuildTicks: s => { s.ticks = yTickValues.map(v => ({ value: v })); },
                afterFit: s => { s.width = 81; },
                grid: { color: '#b0b0b0', lineWidth: 1.1, tickColor: '#000', tickLength: 5 },
                border: { color: '#000', width: 1.1 },
                ticks: { color: '#000', font: { family: font, size: 13.9 }, padding: 7, callback: v => String(v) },
                title: { display: true, text: 'ADC Counts', color: '#000', font: { family: font, size: 13.9 }, padding: { top: 12.7, bottom: 0 } }
            }
        }
    },
    plugins: [framePlugin]
});
</script>
</body>
</html>
